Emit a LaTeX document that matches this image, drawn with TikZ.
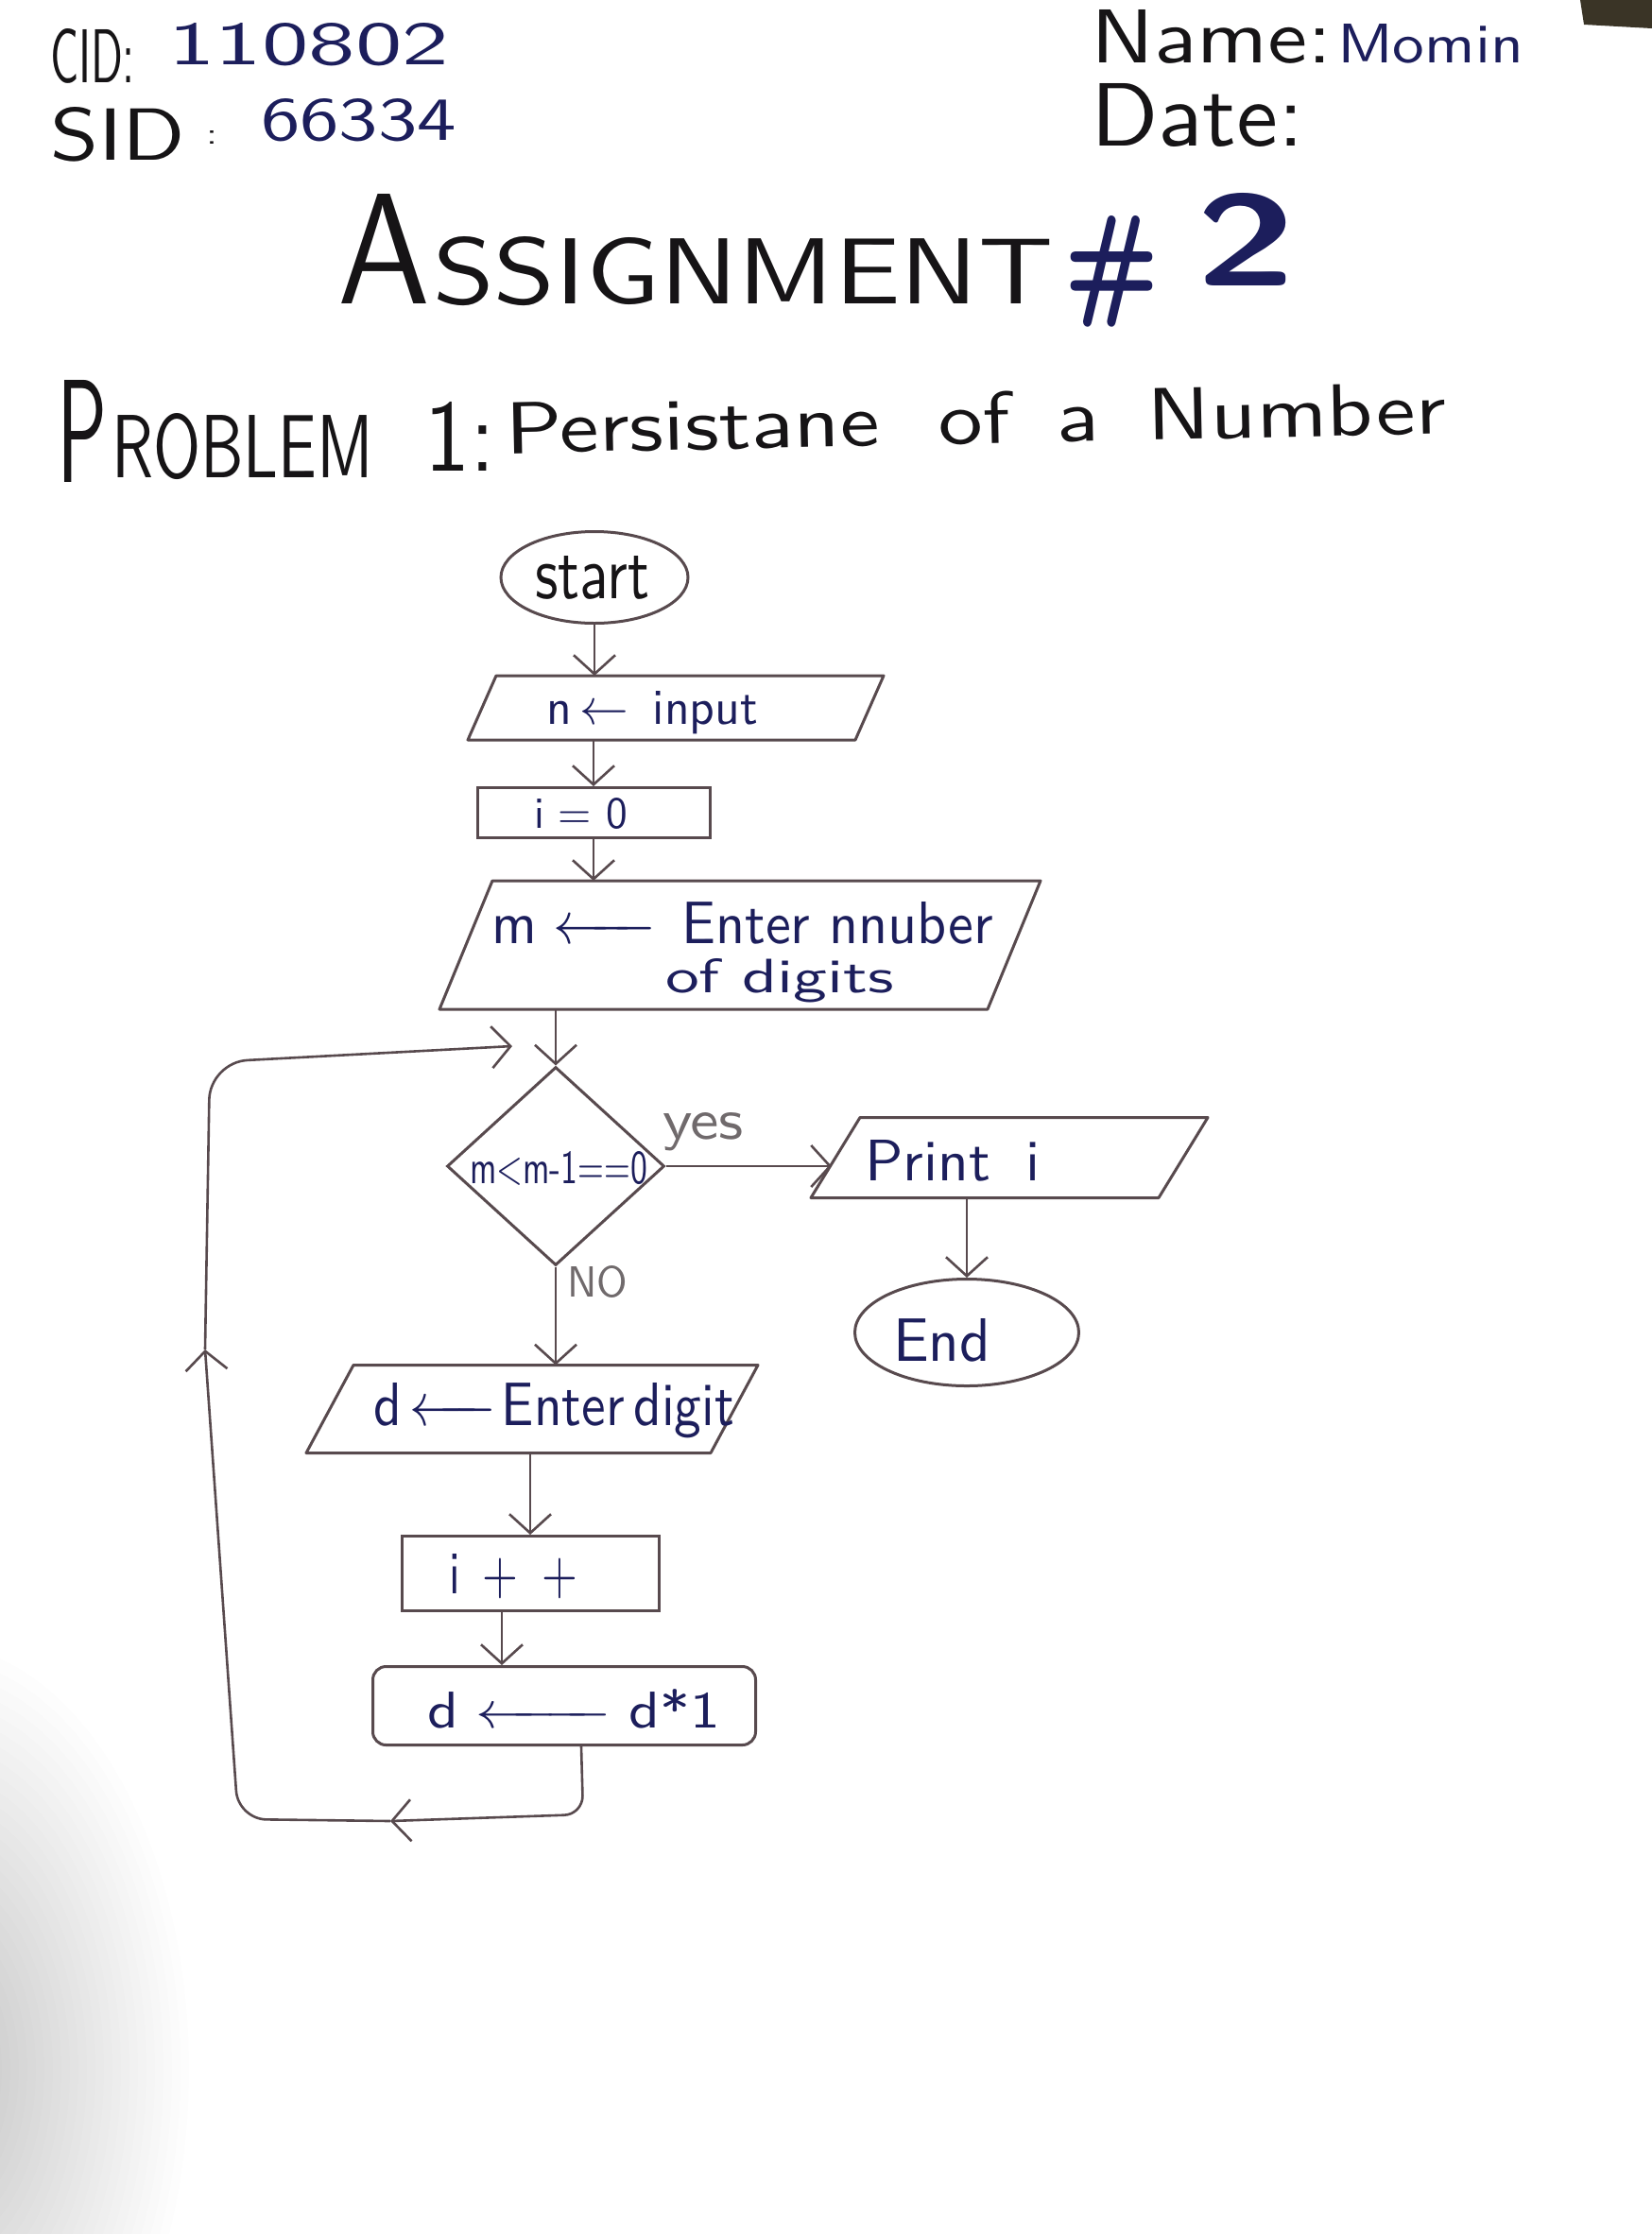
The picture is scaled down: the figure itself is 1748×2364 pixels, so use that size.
\documentclass[tikz,border=0pt]{standalone}
\usepackage{fontspec}
\usepackage{graphicx}
\usetikzlibrary{arrows.meta,shapes.geometric,calc}
\renewcommand{\familydefault}{\sfdefault}
\definecolor{ink}{RGB}{22,20,22}
\definecolor{navy}{RGB}{28,30,92}
\definecolor{pen}{RGB}{88,74,78}
\definecolor{soft}{RGB}{112,106,108}
\definecolor{patch}{RGB}{58,52,38}
\newcommand{\fit}[3]{\resizebox{#1pt}{#2pt}{#3}}
\newcommand{\para}[2]{\draw[parabox] ($(#1.north west)+(#2,0)$) -- ($(#1.north east)+(#2,0)$) -- ($(#1.south east)-(#2,0)$) -- ($(#1.south west)-(#2,0)$) -- cycle;}
\begin{document}
\begin{tikzpicture}[x=1pt,y=-1pt,
  txt/.style={anchor=base west, inner sep=0, outer sep=0},
  shp/.style={draw=pen, line width=3pt, inner sep=0},
  hold/.style={rectangle, inner sep=0, outer sep=0},
  parabox/.style={draw=pen, line width=3pt, line join=round},
  arr/.style={draw=pen, line width=2.6pt, -{Straight Barb[length=20pt,width=44pt]}}]
\useasboundingbox (0,0) rectangle (1748,2364);
\fill[white] (0,0) rectangle (1748,2364);
\begin{scope}
\clip (0,0) rectangle (1748,2364);
\foreach \k in {1,...,30} {
  \fill[black, opacity=0.009] (-70,2190) ellipse [x radius=9*\k, y radius=15*\k];
}
\fill[patch] (1672,0) -- (1748,0) -- (1748,30) -- (1676,26) -- cycle;
\end{scope}

% header
\node[txt, text=ink] (cid) at (53,87) {\fit{90}{57}{CID:}};
\node[txt, text=navy] (cidv) at (178,68) {\fit{297}{44}{110802}};
\node[txt, text=ink] (sid) at (53,169) {\fit{143}{56}{SID}};
\node[txt, text=ink] (sidc) at (218,152) {\fit{12}{14}{:}};
\node[txt, text=navy] (sidv) at (276,148) {\fit{207}{44}{66334}};
\node[txt, text=ink] (name) at (1154,66) {\fit{256}{56}{Name:}};
\node[txt, text=navy] (namev) at (1415,66) {\fit{197}{41}{Momin}};
\node[txt, text=ink] (date) at (1154,154) {\fit{226}{66}{Date:}};

% title
\node[txt, text=ink] (tA) at (357,321) {\fit{98}{116}{A}};
\node[txt, text=ink] (tB) at (458,321) {\fit{657}{71}{SSIGNMENT}};
\node[txt, text=navy] (tH) at (1126,320) {\fit{100}{92}{\bfseries\#}};
\node[txt, text=navy] (t2) at (1265,302) {\fit{106}{98}{\bfseries 2}};

% problem line
\node[txt, text=ink] (pP) at (60,510) {\fit{53}{108}{P}};
\node[txt, text=ink] (pR) at (118,505) {\fit{277}{68}{ROBLEM}};
\node[txt, text=ink] (p1) at (449,498) {\fit{75}{73}{1:}};
\node[txt, text=ink, rotate=1.2] (pT) at (535,480) {\fit{995}{55}{Persistane\hspace{0.66em}of\hspace{0.52em}a\hspace{0.54em}Number}};

% flowchart shapes
\node[shp, ellipse, minimum width=198, minimum height=97] (start) at (629,611) {};
\node[txt, text=ink] (startt) at (566,633) {\fit{121}{45}{start}};

\node[hold, minimum width=410, minimum height=68] (inp) at (715,749) {};
\para{inp}{15}
\node[txt, text=navy] (inpt) at (578,766) {\fit{224}{35}{n\,$\leftarrow$\hspace{0.5em}input}};

\node[shp, rectangle, minimum width=246, minimum height=53] (iz) at (628,860) {};
\node[txt, text=navy] (izt) at (565,876) {\fit{99}{32}{i = 0}};

\node[hold, minimum width=580, minimum height=136] (mb) at (783,1000) {};
\para{mb}{28}
\node[txt, text=navy] (mbt) at (520,998) {\fit{531}{44}{m\hspace{0.3em}\makebox[1.8em]{\leftarrowfill}\hspace{0.45em}Enter nnuber}};
\node[txt, text=navy] (mbt2) at (704,1050) {\fit{242}{36}{of digits}};

\node[shp, diamond, minimum width=230, minimum height=210] (dia) at (588,1234) {};
\node[txt, text=navy] (diat) at (497,1252) {\fit{188}{34}{m<m-1==0}};
\node[txt, text=soft] (yes) at (701,1205) {\fit{86}{28}{yes}};

\node[hold, minimum width=368, minimum height=85] (prt) at (1068,1225) {};
\para{prt}{26}
\node[txt, text=navy] (prtt) at (915,1249) {\fit{186}{43}{Print\hspace{0.6em}i}};

\node[shp, ellipse, minimum width=237, minimum height=113] (end) at (1023,1410) {};
\node[txt, text=navy] (endt) at (945,1440) {\fit{103}{45}{End}};

\node[txt, text=soft] (no) at (600,1372) {\fit{64}{33}{NO}};

\node[hold, minimum width=428, minimum height=93] (db) at (563,1491) {};
\para{db}{25}
\node[txt, text=navy] (dbt) at (395,1508) {\fit{382}{45}{d\hspace{0.15em}\makebox[1.6em]{\leftarrowfill}\hspace{0.1em}Enter\,digit}};

\node[shp, rectangle, minimum width=272, minimum height=79] (ipp) at (561,1665) {};
\node[txt, text=navy] (ippt) at (475,1686) {\fit{136}{42}{i\hspace{0.5em}+\hspace{0.5em}+}};

\node[shp, rectangle, rounded corners=14pt, minimum width=405, minimum height=83] (d1) at (597,1805) {};
\node[txt, text=navy] (d1t) at (452,1828) {\fit{310}{41}{d\hspace{0.3em}\makebox[2.25em]{\leftarrowfill}\hspace{0.3em}d*1}};

% connectors
\draw[arr] (start.south) -- (start.south |- inp.north);
\draw[arr] (iz.north |- inp.south) -- (iz.north);
\draw[arr] (iz.south) -- (iz.south |- mb.north);
\draw[arr] (dia.north |- mb.south) -- (dia.north);
\draw[arr, shorten >=4pt] (dia.east) -- (dia.east -| prt.west);
\draw[arr] (end.north |- prt.south) -- (end.north);
\draw[arr] (dia.south) -- (dia.south |- db.north);
\draw[arr] (ipp.north |- db.south) -- (ipp.north);
\draw[arr] ([xshift=-30pt]ipp.south) -- ([xshift=-30pt]ipp.south |- d1.north);

% loop back
\coordinate (lpA) at (413,1927);
\coordinate (lpB) at (217,1428);
\coordinate (lpC) at (542,1107);
\draw[arr, rounded corners=20pt] ([xshift=18pt]d1.south) -- ++(2,72) -- (lpA);
\draw[arr, rounded corners=30pt] (lpA) -- (252,1925) -- (lpB);
\draw[arr, rounded corners=40pt] (lpB) -- (222,1124) -- (lpC);
\end{tikzpicture}
\end{document}
